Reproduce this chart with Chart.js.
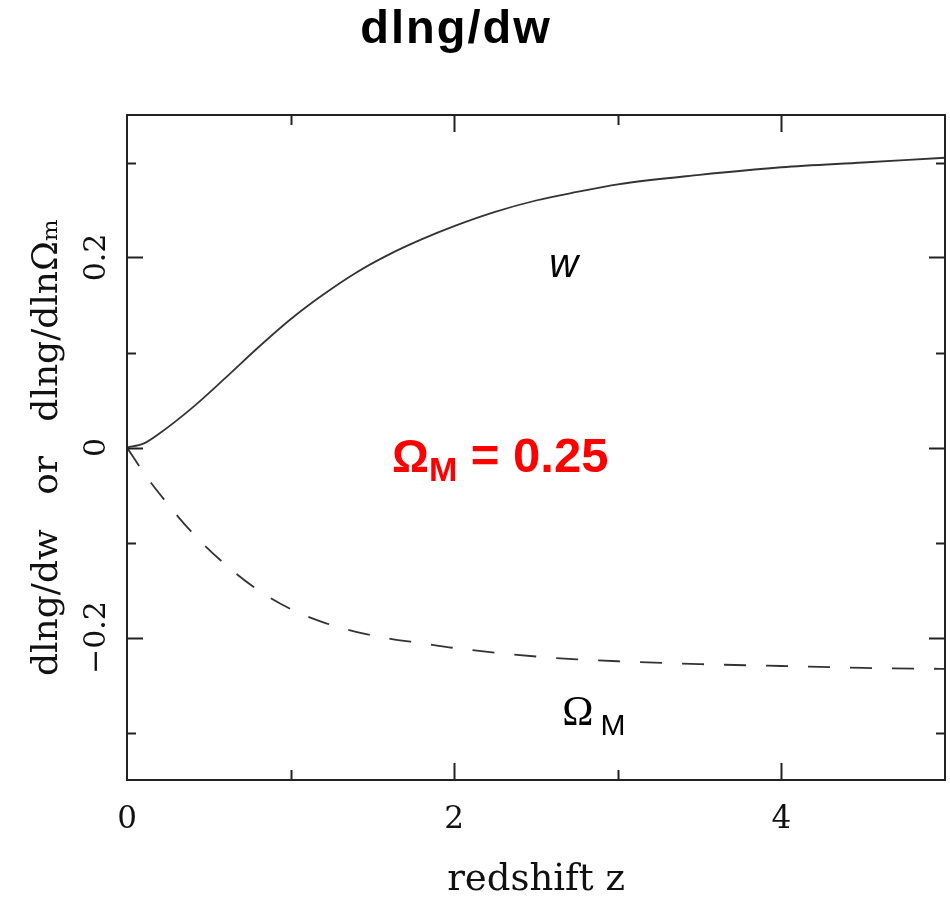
<!DOCTYPE html>
<html>
<head>
<meta charset="utf-8">
<script src="https://cdn.jsdelivr.net/npm/chart.js@4.4.1/dist/chart.umd.min.js"></script>
<style>
  html, body { margin: 0; padding: 0; background: #fff; overflow: hidden; }
  #wrap { width: 950px; height: 903px; position: relative; }
  canvas { display: block; }
</style>
</head>
<body>
<div id="wrap"><canvas id="growthChart"></canvas></div>
<script>
// values
const redshift = [0, 0.1, 0.2, 0.4, 0.6, 0.8, 1.0, 1.2, 1.4, 1.6, 1.8, 2.0, 2.25, 2.5, 2.75, 3.0, 3.5, 4.0, 4.5, 5.0];
const dlngDw = [0, 0.004, 0.015, 0.042, 0.073, 0.105, 0.135, 0.161, 0.184, 0.203, 0.219, 0.233, 0.248, 0.260, 0.269, 0.277, 0.287, 0.295, 0.300, 0.305];
const dlngDlnOm = [0, -0.026, -0.049, -0.090, -0.123, -0.150, -0.170, -0.184, -0.194, -0.201, -0.206, -0.211, -0.216, -0.220, -0.223, -0.225, -0.228, -0.230, -0.232, -0.233];

const xTickValues = [0, 1, 2, 3, 4, 5];
const xTickLabels = [0, 2, 4];
const yTickValues = [-0.3, -0.2, -0.1, 0, 0.1, 0.2, 0.3];
const yTickLabels = [-0.2, 0, 0.2];

const serif = "'DejaVu Serif', serif";
const sans = "'Liberation Sans', Arial, sans-serif";
const ink = "#222";

function toPoints(ys) {
    return redshift.map((z, i) => ({ x: z, y: ys[i] }));
}

// frame with inward ticks on all four sides, plus the text on the plot
const framePlugin = {
    id: "frame",
    afterDatasetsDraw(chart) {
        const { ctx, chartArea: a, scales } = chart;
        ctx.save();
        ctx.strokeStyle = ink;
        ctx.lineWidth = 2;
        ctx.strokeRect(a.left, a.top, a.right - a.left, a.bottom - a.top);
        ctx.beginPath();
        scales.x.ticks.forEach(t => {
            if (t.value <= scales.x.min || t.value >= scales.x.max) return;
            const px = Math.round(scales.x.getPixelForValue(t.value)) + 0.5;
            const len = xTickLabels.includes(t.value) ? 17 : 10;
            ctx.moveTo(px, a.bottom); ctx.lineTo(px, a.bottom - len);
            ctx.moveTo(px, a.top); ctx.lineTo(px, a.top + len);
        });
        scales.y.ticks.forEach(t => {
            const py = Math.round(scales.y.getPixelForValue(t.value)) + 0.5;
            const len = yTickLabels.includes(t.value) ? 16 : 9;
            ctx.moveTo(a.left, py); ctx.lineTo(a.left + len, py);
            ctx.moveTo(a.right, py); ctx.lineTo(a.right - len, py);
        });
        ctx.stroke();
        ctx.restore();
    },
    afterDraw(chart) {
        const { ctx, scales: { x, y } } = chart;
        ctx.save();
        ctx.textBaseline = "alphabetic";

        // title
        ctx.fillStyle = "#000";
        ctx.textAlign = "center";
        ctx.font = "bold 47px " + sans;
        ctx.letterSpacing = "2px";
        ctx.fillText("dlng/dw", 456, 43);
        ctx.letterSpacing = "0px";

        // curve labels
        ctx.font = "italic 40px " + sans;
        ctx.fillText("w", x.getPixelForValue(2.67), y.getPixelForValue(0.18));

        ctx.textAlign = "left";
        let px = x.getPixelForValue(2.66);
        let py = y.getPixelForValue(-0.292);
        ctx.font = "42px 'Liberation Serif', serif";
        ctx.fillText("Ω", px, py);
        px += ctx.measureText("Ω").width + 7;
        ctx.font = "30px " + sans;
        ctx.fillText("M", px, py + 10);

        // red parameter note
        ctx.fillStyle = "#ff0000";
        px = x.getPixelForValue(1.62);
        py = y.getPixelForValue(-0.026);
        ctx.font = "bold 46px " + sans;
        ctx.fillText("Ω", px, py);
        px += ctx.measureText("Ω").width;
        ctx.font = "bold 34px " + sans;
        ctx.fillText("M", px, py + 9);
        px += ctx.measureText("M").width;
        ctx.font = "bold 49px " + sans;
        ctx.fillText(" = 0.25", px, py);
        ctx.restore();
    }
};

const growthCtx = document.getElementById("growthChart").getContext("2d");
const growthChart = new Chart(growthCtx, {
    type: "line",
    data: {
        datasets: [
            {
                label: "w",
                data: toPoints(dlngDw),
                borderColor: "#333",
                borderWidth: 1.8,
                pointRadius: 0,
                cubicInterpolationMode: "monotone",
                fill: false,
            },
            {
                label: "ΩM",
                data: toPoints(dlngDlnOm),
                borderColor: "#333",
                borderWidth: 1.8,
                borderDash: [22, 20],
                pointRadius: 0,
                cubicInterpolationMode: "monotone",
                fill: false,
            },
        ],
    },
    options: {
        responsive: true,
        maintainAspectRatio: false,
        animation: false,
        layout: {
            padding: { top: 115, right: 5, left: 0, bottom: 0 }
        },
        plugins: {
            legend: { display: false },
            tooltip: { enabled: false },
            title: { display: false }
        },
        scales: {
            x: {
                type: "linear",
                min: 0,
                max: 5,
                afterBuildTicks: s => { s.ticks = xTickValues.map(v => ({ value: v })); },
                afterFit: s => {
                    s.height = 123;
                    s.paddingLeft = 0;
                    s.paddingRight = 0;
                },
                grid: { display: false, drawTicks: false },
                border: { display: false },
                ticks: {
                    autoSkip: false,
                    maxRotation: 0,
                    padding: 21,
                    color: "#111",
                    font: { family: serif, size: 31 },
                    callback: v => xTickLabels.includes(v) ? String(v) : ""
                },
                title: {
                    display: true,
                    text: "redshift z",
                    color: "#111",
                    font: { family: serif, size: 37 },
                    padding: { top: 0, bottom: 0 }
                }
            },
            y: {
                min: -0.35,
                max: 0.35,
                afterBuildTicks: s => { s.ticks = yTickValues.map(v => ({ value: v })); },
                afterFit: s => {
                    s.width = 127;
                    s.paddingTop = 0;
                    s.paddingBottom = 0;
                },
                grid: { display: false, drawTicks: false },
                border: { display: false },
                ticks: {
                    autoSkip: false,
                    minRotation: 90,
                    maxRotation: 90,
                    crossAlign: "center",
                    padding: -7,
                    color: "#111",
                    font: { family: serif, size: 30 },
                    callback: v => {
                        if (!yTickLabels.includes(v)) return "";
                        return v < 0 ? "\u2212" + Math.abs(v) : String(v);
                    }
                },
                title: {
                    display: true,
                    text: "dlng/dw   or   dlng/dlnΩₘ",
                    color: "#111",
                    font: { family: serif, size: 36 },
                    padding: { top: 26, bottom: 0 }
                }
            }
        }
    },
    plugins: [framePlugin]
});
</script>
</body>
</html>
